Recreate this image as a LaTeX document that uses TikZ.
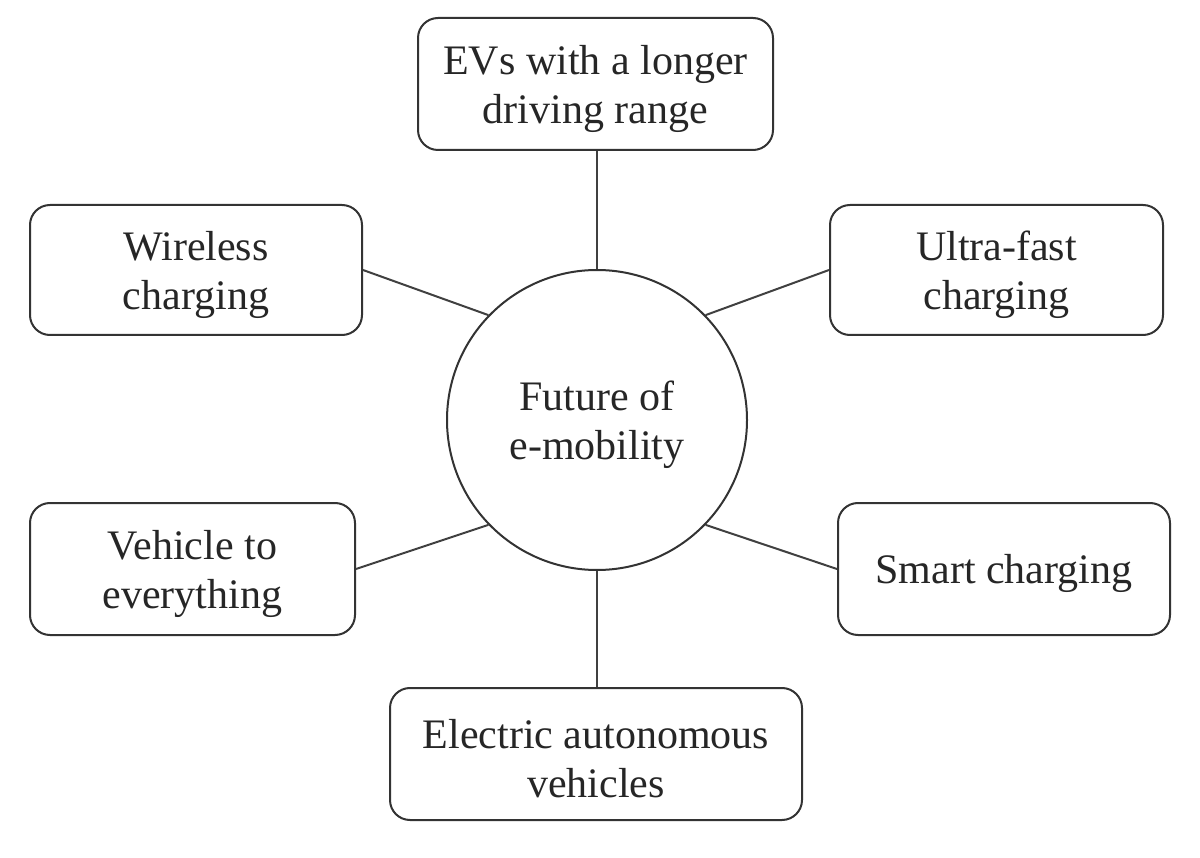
\documentclass[tikz,border=0pt]{standalone}
\usepackage{fontspec}
\setmainfont{Liberation Serif}
\newcommand\fstrut{\rule{0pt}{39pt}}
\begin{document}
\begin{tikzpicture}[x=1pt,y=-1pt,
  txt/.style={align=center, inner sep=0pt, font=\fontsize{42}{49}\selectfont, text=black!85},
  box/.style={txt, draw=black!80, line width=2pt, rounded corners=20pt},
  link/.style={draw=black!75, line width=2pt}]
\useasboundingbox (0,0) rectangle (1200,858);
\node[txt, circle, draw=black!80, line width=2pt, minimum size=300pt] (c) at (597,420) {\fstrut Future of\\e-mobility};
\node[box, minimum width=355pt, minimum height=132pt] (ev) at (595.5,84) {\fstrut EVs with a longer\\driving range};
\node[box, minimum width=332pt, minimum height=130pt] (wl) at (196,270) {\fstrut Wireless\\charging};
\node[box, minimum width=333pt, minimum height=130pt] (uf) at (996.5,270) {\fstrut Ultra-fast\\charging};
\node[box, minimum width=325pt, minimum height=132pt] (v) at (192.5,569) {\fstrut Vehicle to\\everything};
\node[box, minimum width=332pt, minimum height=132pt] (sc) at (1004,569) {\fstrut Smart charging};
\node[box, minimum width=412pt, minimum height=132pt] (ea) at (596,754) {\fstrut Electric autonomous\\vehicles};
\draw[link] (c.north) -- (c.north |- ev.south);
\draw[link] (wl.east) -- (c.136);
\draw[link] (uf.west) -- (c.44);
\draw[link] (v.east) -- (c.224);
\draw[link] (sc.west) -- (c.-44);
\draw[link] (c.south) -- (c.south |- ea.north);
\end{tikzpicture}
\end{document}
